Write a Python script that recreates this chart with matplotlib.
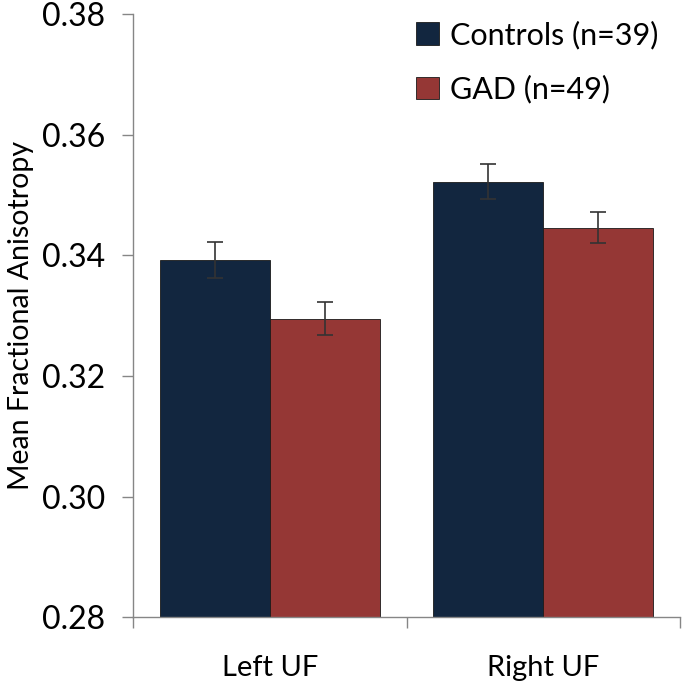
import numpy as np
import matplotlib.pyplot as plt

plt.rcParams['font.family'] = ['Lato', 'DejaVu Sans']

# data
regions = ['Left UF', 'Right UF']
groups = ['Controls (n=39)', 'GAD (n=49)']
controls_mean = [0.3392, 0.3522]
controls_err = [0.0030, 0.0029]
gad_mean = [0.3295, 0.3446]
gad_err = [0.0027, 0.0026]
yticks = [0.28, 0.30, 0.32, 0.34, 0.36, 0.38]

colors = ['#12263F', '#953735']
axis_gray = '#868686'

fig = plt.figure(figsize=(6.9, 6.86), dpi=100)
ax = fig.add_axes([0.193, 0.1, 0.7925, 0.8796])

x = np.arange(len(regions))
w = 0.402
ax.bar(x - w / 2, controls_mean, w, yerr=controls_err, color=colors[0],
       edgecolor='#1a1a1a', linewidth=0.6, label=groups[0],
       error_kw=dict(ecolor='#333333', elinewidth=1.2, capsize=6, capthick=1.2))
ax.bar(x + w / 2, gad_mean, w, yerr=gad_err, color=colors[1],
       edgecolor='#1a1a1a', linewidth=0.6, label=groups[1],
       error_kw=dict(ecolor='#333333', elinewidth=1.2, capsize=6, capthick=1.2))

ax.set_xlim(-0.5, 1.5)
ax.set_ylim(0.28, 0.38)
ax.set_yticks(yticks)
ax.set_yticklabels([f'{v:.2f}' for v in yticks], fontsize=23)
ax.set_xticks(x)
ax.set_xticklabels(regions, fontsize=21)
ax.set_xticks([-0.5, 0.5, 1.5], minor=True)
ax.tick_params(axis='x', which='major', length=0, pad=27)
ax.tick_params(axis='x', which='minor', length=8, color=axis_gray, width=1)
ax.tick_params(axis='y', length=8, color=axis_gray, width=1, pad=12)
ax.set_ylabel('Mean Fractional Anisotropy', fontsize=20.5, labelpad=6)

for s in ['top', 'right']:
    ax.spines[s].set_visible(False)
for s in ['left', 'bottom']:
    ax.spines[s].set_color(axis_gray)
    ax.spines[s].set_linewidth(1)

ax.legend(loc='upper right', bbox_to_anchor=(1.01, 1.035), frameon=False,
          fontsize=22, handlelength=0.75, handleheight=0.75, handletextpad=0.35,
          labelspacing=0.85)

fig.savefig('out.png', dpi=100)
